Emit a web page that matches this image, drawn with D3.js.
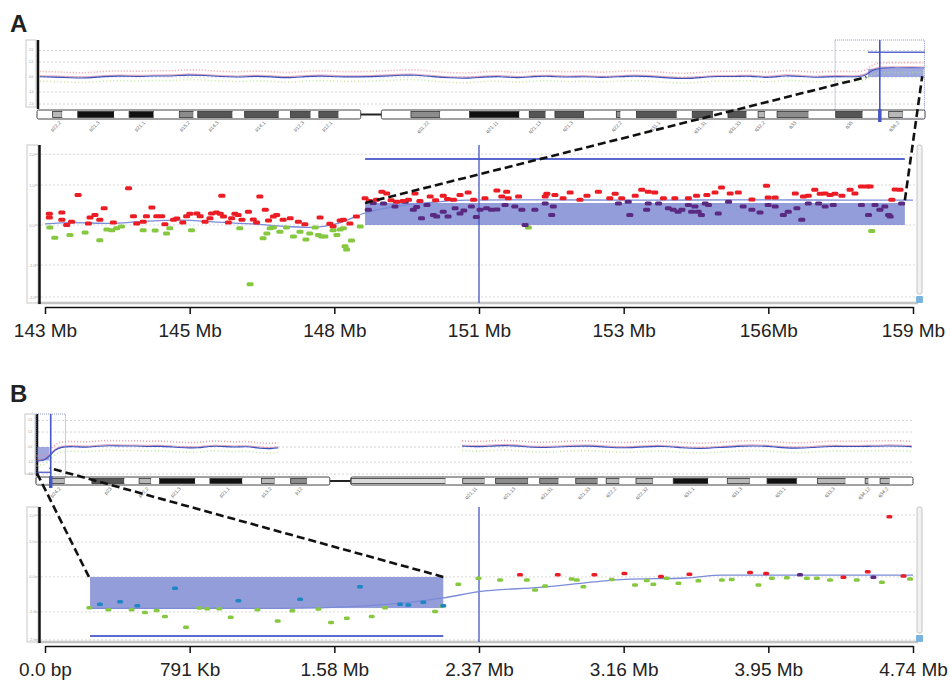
<!DOCTYPE html>
<html><head><meta charset="utf-8">
<script src="https://cdn.jsdelivr.net/npm/d3@7"></script>
<style>body{margin:0;background:#fff;} svg{display:block;font-family:"Liberation Sans",Arial,sans-serif;}</style>
</head><body><svg id="c" width="950" height="680"></svg>
<script>
// ---------------- DATA ----------------
// chromosome 7 cytobands (Mb)
const chr7Bands = [[0,2.8,"p22.3","gneg"],[2.8,4.5,"p22.2","gpos25"],[4.5,7.3,"p22.1","gneg"],[7.3,13.8,"p21.3","gpos100"],[13.8,16.5,"p21.2","gneg"],[16.5,20.9,"p21.1","gpos100"],[20.9,25.5,"p15.3","gneg"],[25.5,28.0,"p15.2","gpos50"],[28.0,28.8,"p15.1","gneg"],[28.8,35.0,"p14.3","gpos75"],[35.0,37.2,"p14.2","gneg"],[37.2,43.3,"p14.1","gpos75"],[43.3,45.4,"p13","gneg"],[45.4,49.0,"p12.3","gpos75"],[49.0,50.5,"p12.2","gneg"],[50.5,54.0,"p12.1","gpos75"],[54.0,58.0,"p11.2","gneg"],[58.0,59.9,"p11.1","acen"],[59.9,61.7,"q11.1","acen"],[61.7,67.0,"q11.21","gneg"],[67.0,72.2,"q11.22","gpos50"],[72.2,77.5,"q11.23","gneg"],[77.5,86.4,"q21.11","gpos100"],[86.4,88.2,"q21.12","gneg"],[88.2,91.1,"q21.13","gpos75"],[91.1,92.8,"q21.2","gneg"],[92.8,98.0,"q21.3","gpos75"],[98.0,103.8,"q22.1","gneg"],[103.8,104.5,"q22.2","gpos50"],[104.5,107.4,"q22.3","gneg"],[107.4,114.6,"q31.1","gpos75"],[114.6,117.4,"q31.2","gneg"],[117.4,121.1,"q31.31","gpos75"],[121.1,123.8,"q31.32","gneg"],[123.8,127.1,"q31.33","gpos75"],[127.1,129.2,"q32.1","gneg"],[129.2,130.4,"q32.2","gpos25"],[130.4,132.6,"q32.3","gneg"],[132.6,138.2,"q33","gpos50"],[138.2,143.1,"q34","gneg"],[143.1,147.9,"q35","gpos75"],[147.9,152.6,"q36.1","gneg"],[152.6,155.1,"q36.2","gpos25"],[155.1,159.1,"q36.3","gneg"]];
// chromosome 9 cytobands (Mb)
const chr9Bands = [[0,2.2,"p24.3","gneg"],[2.2,4.6,"p24.2","gpos25"],[4.6,9.0,"p24.1","gneg"],[9.0,14.2,"p23","gpos75"],[14.2,16.6,"p22.3","gneg"],[16.6,18.5,"p22.2","gpos25"],[18.5,19.9,"p22.1","gneg"],[19.9,25.6,"p21.3","gpos100"],[25.6,28.0,"p21.2","gneg"],[28.0,33.2,"p21.1","gpos100"],[33.2,36.3,"p13.3","gneg"],[36.3,38.4,"p13.2","gpos25"],[38.4,41.0,"p13.1","gneg"],[41.0,43.6,"p12","gpos50"],[43.6,47.3,"p11.2","gneg"],[47.3,49.0,"p11.1","acen"],[49.0,50.7,"q11","acen"],[50.7,65.9,"q12","gvar"],[65.9,68.7,"q13","gneg"],[68.7,72.2,"q21.11","gpos25"],[72.2,74.0,"q21.12","gneg"],[74.0,79.2,"q21.13","gpos50"],[79.2,81.1,"q21.2","gneg"],[81.1,84.1,"q21.31","gpos50"],[84.1,86.9,"q21.32","gneg"],[86.9,90.4,"q21.33","gpos50"],[90.4,91.8,"q22.1","gneg"],[91.8,93.9,"q22.2","gpos25"],[93.9,96.6,"q22.31","gneg"],[96.6,99.3,"q22.32","gpos25"],[99.3,102.6,"q22.33","gneg"],[102.6,108.2,"q31.1","gpos100"],[108.2,111.3,"q31.2","gneg"],[111.3,114.9,"q31.3","gpos25"],[114.9,117.7,"q32","gneg"],[117.7,122.5,"q33.1","gpos100"],[122.5,125.8,"q33.2","gneg"],[125.8,130.3,"q33.3","gpos25"],[130.3,133.5,"q34.11","gneg"],[133.5,134.0,"q34.12","gpos25"],[134.0,135.9,"q34.13","gneg"],[135.9,137.4,"q34.2","gpos25"],[137.4,141.2,"q34.3","gneg"]];

// whole-chromosome smoothed log2 ratio (overview traces)
const ovAPos = [0.5,3,6,9,12,15,18,21,24,27,30,33,36,39,42,45,48,51,54,57.5,62.5,65,68,71,74,77,80,83,86,89,92,95,98,101,104,107,110,113,116,119,122,125,128,131,134,137,140,143,146,148.5,149.5,151,154,157,159];
const ovAVal = [0.02,0.0,-0.05,-0.08,0.04,0.07,0.02,0.08,0.05,0.15,0.1,0.03,-0.02,0.06,0.02,-0.08,0.04,0.08,0.01,0.0,0.06,0.12,0.14,0.02,-0.06,-0.1,0.0,0.05,-0.08,0.04,0.06,-0.03,0.05,-0.05,0.02,0.08,0.03,-0.06,-0.12,-0.04,0.05,0.02,0.08,-0.08,0.12,0.03,-0.04,0.05,0.0,0.05,0.45,0.62,0.6,0.62,0.6];
const ovBPos = [0.1,0.5,1,1.5,2.2,3,4,6,8,10,12,14,16,18,20,22,24,26,28,30,32,34,36,38,39,68.6,71,74,77,80,83,86,89,92,95,98,101,104,107,110,113,116,119,122,125,128,131,134,137,140,141];
const ovBVal = [-0.95,-0.92,-0.9,-0.85,-0.6,-0.2,0.0,0.04,-0.04,0.06,0.1,0.05,0.08,0.02,0.06,0.0,-0.05,-0.08,0.06,0.04,-0.02,0.05,-0.1,-0.12,-0.06,0.06,0.0,0.09,0.1,-0.05,-0.02,0.04,0.08,-0.02,-0.08,0.02,0.06,-0.06,-0.12,-0.04,0.05,0.09,0.0,-0.1,-0.04,0.06,0.02,0.04,0.08,0.05,0.02];

// Panel A detail probes [Mb, log2 ratio]
const redA = [[143.08,0.28],[143.08,0.19],[143.31,0.31],[143.31,0.13],[143.40,0.0],[143.49,0.08],[143.61,0.75],[143.80,0.04],[143.83,0.19],[143.92,0.25],[144.01,0.13],[144.09,0.42],[144.26,0.06],[144.54,0.92],[144.63,0.22],[144.69,0.04],[144.81,0.08],[144.87,0.22],[144.97,0.44],[145.06,0.22],[145.15,0.22],[145.21,0.02],[145.37,0.13],[145.43,0.16],[145.54,0.06],[145.61,0.22],[145.67,0.28],[145.80,0.29],[145.86,0.22],[145.95,0.08],[146.04,0.17],[146.07,0.29],[146.16,0.31],[146.23,0.28],[146.26,0.73],[146.29,0.21],[146.38,0.06],[146.44,0.17],[146.50,0.28],[146.56,0.25],[146.63,0.13],[146.75,0.33],[146.84,0.14],[146.90,0.06],[146.96,0.71],[147.06,0.38],[147.12,0.11],[147.21,0.21],[147.27,0.25],[147.39,0.13],[147.52,0.17],[147.67,0.08],[147.79,0.02],[148.07,0.19],[148.25,0.03],[148.31,-0.03],[148.44,0.11],[148.50,0.13],[148.62,0.04],[148.74,0.21],
 [148.90,0.67],[148.98,0.60],[149.11,0.63],[149.21,0.83],[149.30,0.79],[149.38,0.62],[149.48,0.58],[149.60,0.60],[149.70,0.63],[149.82,0.79],[149.91,0.60],[150.10,0.71],[150.20,0.62],[150.34,0.73],[150.42,0.65],[150.53,0.63],[150.65,0.75],[150.80,0.81],[150.90,0.63],
 [151.11,0.67],[151.33,0.86],[151.42,0.71],[151.51,0.83],[151.54,0.67],[151.73,0.71],[152.22,0.71],[152.25,0.78],[152.40,0.75],[152.55,0.67],[152.68,0.81],[152.86,0.63],[152.99,0.73],[153.20,0.83],[153.41,0.67],[153.51,0.78],[153.63,0.67],[153.88,0.73],[154.00,0.88],[154.12,0.83],[154.24,0.81],[154.40,0.67],[154.61,0.67],[154.86,0.67],[155.01,0.73],[155.20,0.75],[155.35,0.81],[155.47,0.94],[155.63,0.79],[155.78,0.81],[156.03,0.64],[156.30,0.98],[156.33,0.69],[156.46,0.69],[156.83,0.79],[156.98,0.71],[157.07,0.73],[157.19,0.88],[157.29,0.78],[157.38,0.79],[157.47,0.75],[157.56,0.78],[157.69,0.73],[157.84,0.88],[157.93,0.79],[158.05,0.96],[158.15,0.96],[158.21,0.96],[158.61,0.63],[158.67,0.89],[158.76,0.88]];
const purpleA = [[148.96,0.38],[149.05,0.55],[149.24,0.54],[149.45,0.46],[149.64,0.58],[149.79,0.38],[149.85,0.45],[149.94,0.17],[150.04,0.50],[150.16,0.25],[150.22,0.21],[150.34,0.33],[150.43,0.21],[150.56,0.42],[150.65,0.29],[150.72,0.36],[150.86,0.46],[150.95,0.20],
 [151.02,0.38],[151.14,0.42],[151.23,0.38],[151.33,0.39],[151.48,0.50],[151.66,0.46],[151.79,0.38],[151.85,0.0],[152.03,0.38],[152.22,0.54],[152.34,0.25],[152.37,0.46],[153.57,0.54],[153.75,0.58],[153.78,0.25],[154.09,0.38],[154.12,0.54],[154.31,0.54],[154.49,0.42],[154.58,0.38],[154.67,0.33],[154.74,0.38],[154.86,0.50],[154.92,0.33],[154.98,0.46],[155.04,0.33],[155.10,0.25],[155.17,0.54],[155.23,0.50],[155.41,0.29],[155.60,0.58],[155.87,0.46],[156.03,0.38],[156.18,0.31],[156.33,0.50],[156.46,0.46],[156.61,0.25],[156.70,0.33],[156.86,0.42],[156.95,0.13],[157.07,0.54],[157.26,0.54],[157.38,0.46],[157.53,0.50],[158.05,0.50],[158.18,0.25],[158.30,0.50],[158.39,0.38],[158.48,0.46],[158.55,0.25],[158.58,0.21],[158.79,0.54]];
const greenA = [[143.09,-0.06],[143.18,-0.32],[143.46,-0.25],[143.74,-0.19],[144.01,-0.38],[144.14,-0.11],[144.23,-0.13],[144.32,-0.08],[144.41,-0.04],[144.81,-0.13],[145.03,-0.14],[145.24,-0.21],[145.30,-0.08],[145.70,-0.13],[146.59,-0.08],[146.78,-1.48],[147.02,-0.33],[147.09,-0.21],[147.15,-0.08],[147.21,-0.06],[147.33,-0.17],[147.45,-0.06],[147.58,-0.29],[147.70,-0.17],[147.81,-0.36],[147.88,-0.21],[147.98,-0.06],[148.04,-0.25],[148.10,-0.29],[148.16,-0.29],[148.31,-0.13],[148.38,-0.25],[148.44,-0.11],[148.50,-0.08],[148.53,-0.53],[148.56,-0.61],[148.65,-0.39],[148.81,-0.04],[151.91,-0.06],[158.24,-0.15]];
const smoothA = [[143,0.03],[143.5,0.06],[144.2,0.04],[144.8,0.09],[145.5,0.12],[146.2,0.07],[146.9,0.02],[147.5,-0.04],[147.9,-0.06],[148.4,0.04],[148.9,0.3],[149.4,0.45],[150,0.55],[150.8,0.62],[152,0.63],[154,0.62],[156,0.63],[158,0.62],[159,0.62]];

// Panel B detail probes [Mb, log2 ratio]
const greenB = [[0.242,-0.88],[0.346,-0.94],[0.473,-0.94],[0.546,-1.02],[0.610,-0.96],[0.655,-1.13],[0.770,-1.44],[0.843,-0.89],[0.886,-0.91],[0.952,-0.91],[1.014,-1.15],[1.160,-0.94],[1.271,-1.26],[1.351,-0.97],[1.493,-0.92],[1.562,-1.30],[1.648,-1.18],[1.784,-1.13],[1.857,-0.88],[2.130,-0.99],[2.167,-0.83],[2.257,-0.21],
 [2.367,-0.04],[2.485,-0.09],[2.631,-0.09],[2.676,-0.37],[2.731,-0.26],[2.876,-0.06],[2.904,-0.09],[2.940,-0.28],[3.095,-0.07],[3.222,-0.23],[3.286,-0.10],[3.322,-0.21],[3.395,-0.04],[3.459,-0.18],[3.568,-0.11],[3.696,-0.09],[3.750,-0.07],[3.896,-0.23],[3.969,-0.04],[4.051,-0.02],[4.160,-0.04],[4.215,-0.04],[4.287,-0.09],[4.433,-0.09],[4.570,-0.15],[4.724,-0.06]];
const blueB = [[0.300,-0.78],[0.410,-0.71],[0.504,-0.82],[0.710,-0.32],[1.056,-0.68],[1.393,-0.64],[1.720,-0.28],[1.939,-0.78],[1.984,-0.80],[2.066,-0.72],[2.175,-0.82]];
const redB = [[2.594,0.06],[2.800,0.06],[3.000,0.06],[3.164,0.10],[3.364,0.01],[3.519,0.08],[3.850,0.13],[3.938,0.10],[4.360,-0.01],[4.493,0.15],[4.688,0.03],[4.611,1.72]];
const purpleB = [[4.123,0.06],[4.524,-0.01]];
const smoothB = [[0.246,-0.9],[0.8,-0.9],[1.3,-0.9],[1.7,-0.84],[2.0,-0.72],[2.175,-0.6],[2.37,-0.42],[2.7,-0.3],[3.17,-0.07],[3.5,-0.03],[3.7,0.05],[4.74,0.05]];

// called segments [start Mb, end Mb, log2 ratio], marker line level, cursor
const segA = [148.9, 158.85, 0.55], segLineA = 1.65, cursorA = 151;
const segB = [0.246, 2.175, -0.89], segLineB = -1.69, cursorB = 2.37;

// axis ticks
const tickValsA = [143,145.667,148.333,151,153.667,156.333,159];
const tickLabelsA = ["143 Mb","145 Mb","148 Mb","151 Mb","153 Mb","156Mb","159 Mb"];
const tickValsB = [0,0.79,1.58,2.37,3.16,3.95,4.74];
const tickLabelsB = ["0.0 bp","791 Kb","1.58 Mb","2.37 Mb","3.16 Mb","3.95 Mb","4.74 Mb"];
const gridVals = [1.77,1,0,-1,-1.8];
const yAxisLabels = ["2.0","1.0","0.0","-1.0","-2.0"];

// ---------------- DRAW ----------------
const svg = d3.select("#c");
const stainFill = {gneg:"#ffffff",gpos25:"#b8b8b8",gpos50:"#8c8c8c",gpos75:"#555555",gpos100:"#111111",gvar:"#dadada",acen:"#888"};
const C = {red:"#ec1c24", purple:"#5a2a82", green:"#86c840", blue:"#1f86c6", seg:"#8d98d8", segLine:"#5b69d0", cursor:"#4656c6", smooth:"#7b8bd8"};

function drawPanel(p){
  const g = svg.append("g");
  g.append("text").attr("x",10).attr("y",p.labelY).attr("font-size",24).attr("font-weight","bold").attr("fill","#222").text(p.label);

  // ---- overview ----
  const chrLen = d3.max(p.bands, d=>d[1]);
  const ox = d3.scaleLinear().domain([0,chrLen]).range(p.ovX);
  const oy = d3.scaleLinear().domain(p.ovYDom).range([p.ovFrame[1],p.ovFrame[0]]);
  // left axis box
  g.append("rect").attr("x",p.ovX[0]-11).attr("y",p.ovFrame[0]).attr("width",10).attr("height",p.ovFrame[1]-p.ovFrame[0]).attr("fill","#fff").attr("stroke","#c8c8c8");
  gridVals.forEach((v,i)=>{
    g.append("line").attr("x1",p.ovX[0]+2).attr("x2",p.ovX[1]).attr("y1",oy(v)).attr("y2",oy(v)).attr("stroke","#d4d4d4").attr("stroke-dasharray","2,2");
    g.append("text").attr("x",p.ovX[0]-6).attr("y",oy(v)+1).attr("font-size",3).attr("fill","#999").attr("text-anchor","middle").text(yAxisLabels[i]);
  });
  g.append("line").attr("x1",p.ovX[0]+1).attr("x2",p.ovX[0]+1).attr("y1",p.ovFrame[0]).attr("y2",p.ovFrame[1]+2).attr("stroke","#111").attr("stroke-width",2.5);

  // trace (break at gaps)
  const pts = p.ovPos.map((d,i)=>({x:d,v:p.ovVal[i],br:i>0 && d-p.ovPos[i-1]>6}));
  const segs=[];let cur=[];
  pts.forEach(d=>{ if(d.br){segs.push(cur);cur=[];} cur.push(d); }); segs.push(cur);
  // segment box in overview
  g.append("rect").attr("x",ox(p.seg[0])).attr("width",ox(p.seg[1])-ox(p.seg[0])).attr("y",oy(Math.max(0,p.seg[2]))).attr("height",Math.abs(oy(p.seg[2])-oy(0))).attr("fill",C.seg).attr("opacity",0.85);
  const ln = d3.line().x(d=>ox(d.x)).y(d=>oy(d.v)).curve(d3.curveBasis);
  segs.forEach(s=>{
    g.append("path").attr("d",d3.line().x(d=>ox(d.x)).y(d=>oy(d.v+0.35)).curve(d3.curveBasis)(s)).attr("fill","none").attr("stroke","#f28a90").attr("stroke-width",1.6).attr("stroke-dasharray","1,2").attr("opacity",0.8);
    g.append("path").attr("d",d3.line().x(d=>ox(d.x)).y(d=>oy(d.v-0.3)).curve(d3.curveBasis)(s)).attr("fill","none").attr("stroke","#b8e08a").attr("stroke-width",1.6).attr("stroke-dasharray","1,2.5").attr("opacity",0.8);
    g.append("path").attr("d",ln(s)).attr("fill","none").attr("stroke","#c04070").attr("stroke-width",1.2).attr("opacity",0.45).attr("transform","translate(0,-1)");
    g.append("path").attr("d",ln(s)).attr("fill","none").attr("stroke","#3a52c0").attr("stroke-width",1.1);
  });
  g.append("line").attr("x1",ox(p.seg[0])).attr("x2",ox(Math.min(p.seg[1]+0.3,chrLen))).attr("y1",oy(p.segLine)).attr("y2",oy(p.segLine)).attr("stroke",C.segLine).attr("stroke-width",1.5);
  // selection rectangle
  g.append("rect").attr("x",ox(p.detDom[0])).attr("width",ox(p.detDom[1])-ox(p.detDom[0])).attr("y",p.ovFrame[0]).attr("height",p.ideoY[1]-p.ovFrame[0]-2).attr("fill","none").attr("stroke","#8a94d0").attr("stroke-dasharray","1,1");

  // ideogram
  const bandsNoCen = p.bands.filter(b=>b[3]!=="acen");
  const cen = p.bands.filter(b=>b[3]==="acen");
  const cen0 = d3.min(cen,d=>d[0]), cen1 = d3.max(cen,d=>d[1]);
  const ih = p.ideoY[1]-p.ideoY[0];
  g.append("line").attr("x1",ox(cen0)).attr("x2",ox(cen1)).attr("y1",p.ideoY[0]+ih/2).attr("y2",p.ideoY[0]+ih/2).attr("stroke","#222").attr("stroke-width",2);
  g.selectAll(null).data(bandsNoCen).join("rect")
    .attr("x",d=>ox(d[0])).attr("width",d=>ox(d[1])-ox(d[0])).attr("y",p.ideoY[0]+1.5).attr("height",ih-3)
    .attr("fill",d=>stainFill[d[3]]).attr("stroke",d=>d[3]==="gneg"?"none":"#333").attr("stroke-width",0.8);
  [[0,cen0],[cen1,chrLen]].forEach(a=>{
    g.append("rect").attr("x",ox(a[0])).attr("width",ox(a[1])-ox(a[0])).attr("y",p.ideoY[0]).attr("height",ih).attr("rx",1.5).attr("fill","none").attr("stroke","#444").attr("stroke-width",1);
  });
  g.selectAll(null).data(p.bands.filter(b=>b[3].startsWith("gpos"))).join("text")
    .attr("transform",d=>`translate(${ox((d[0]+d[1])/2)+4},${p.ideoY[1]+4}) rotate(-45)`)
    .attr("text-anchor","end").attr("font-size",5).attr("fill","#666").text(d=>d[2]);
  // cursor in overview
  g.append("line").attr("x1",ox(p.cursor)).attr("x2",ox(p.cursor)).attr("y1",p.ovFrame[0]).attr("y2",p.ideoY[1]+2).attr("stroke",C.cursor).attr("stroke-width",1.6);
  g.append("line").attr("x1",ox(p.cursor)).attr("x2",ox(p.cursor)).attr("y1",p.ideoY[0]-1).attr("y2",p.ideoY[1]+3).attr("stroke",C.cursor).attr("stroke-width",3.5);

  // ---- detail ----
  const x = d3.scaleLinear().domain(p.detDom).range([45,913]);
  const y = d3.scaleLinear().domain(p.detYDom).range(p.detYRange);
  const top = p.detYRange[1], bot = p.detYRange[0];
  g.append("rect").attr("x",27).attr("y",top).attr("width",11).attr("height",bot-top).attr("fill","#fff").attr("stroke","#c8c8c8");
  gridVals.forEach((v,i)=>{
    g.append("line").attr("x1",41).attr("x2",915).attr("y1",y(v)).attr("y2",y(v)).attr("stroke","#d8d8d8").attr("stroke-dasharray","2,2");
    g.append("line").attr("x1",35).attr("x2",38).attr("y1",y(v)).attr("y2",y(v)).attr("stroke","#bbb");
    g.append("text").attr("x",32).attr("y",y(v)+1.5).attr("font-size",4).attr("fill","#aaa").attr("text-anchor","middle").text(yAxisLabels[i]);
  });
  g.append("line").attr("x1",37).attr("x2",918).attr("y1",bot).attr("y2",bot).attr("stroke","#c4c4c4").attr("stroke-width",2.5);
  g.append("line").attr("x1",39.5).attr("x2",39.5).attr("y1",top).attr("y2",bot+1).attr("stroke","#111").attr("stroke-width",2.5);
  // scrollbar
  g.append("rect").attr("x",917).attr("y",top).attr("width",5).attr("height",bot-top-9).attr("rx",2).attr("fill","#f2f2f2").attr("stroke","#c4c4c4");
  g.append("rect").attr("x",916).attr("y",bot-7).attr("width",7).attr("height",7).attr("rx",1).attr("fill","#7ab4de");

  // segment box
  g.append("rect").attr("x",x(p.seg[0])).attr("width",x(p.seg[1])-x(p.seg[0])).attr("y",y(Math.max(0,p.seg[2]))).attr("height",Math.abs(y(p.seg[2])-y(0))).attr("fill",C.seg).attr("opacity",0.95);
  g.append("line").attr("x1",x(p.seg[0])).attr("x2",x(p.seg[1])).attr("y1",y(p.segLine)).attr("y2",y(p.segLine)).attr("stroke",C.segLine).attr("stroke-width",2);
  // cursor
  g.append("line").attr("x1",x(p.cursor)).attr("x2",x(p.cursor)).attr("y1",top).attr("y2",bot).attr("stroke",C.cursor).attr("stroke-width",1.3);

  // smoothed line
  g.append("path").datum(p.smooth).attr("d",d3.line().x(d=>x(d[0])).y(d=>y(d[1])).curve(d3.curveMonotoneX)).attr("fill","none").attr("stroke",C.smooth).attr("stroke-width",1.3);

  // probes
  p.points.forEach(s=>{
    g.selectAll(null).data(s.data).join("rect")
      .attr("x",d=>x(d[0])-s.w/2).attr("y",d=>y(d[1])-s.h/2).attr("width",s.w).attr("height",s.h).attr("rx",1.5).attr("fill",s.color);
  });

  // axis
  const ax = g.append("g").attr("transform",`translate(0,${p.axisY})`)
    .call(d3.axisBottom(x).tickValues(p.tickVals).tickFormat((d,i)=>p.tickLabels[i]).tickSize(7).tickSizeOuter(0).tickPadding(10));
  ax.select(".domain").attr("stroke","#111").attr("stroke-width",1.5);
  ax.selectAll(".tick line").attr("stroke","#111").attr("stroke-width",1.5);
  ax.selectAll(".tick text").attr("font-size",19).attr("fill","#222").attr("font-family","Liberation Sans, Arial, sans-serif");

  // zoom connectors
  p.dash.forEach(dl=>{
    const a = [x(dl[0][0]), y(dl[0][1])], b = [ox(dl[1][0]), oy(dl[1][1])];
    g.append("line").attr("x1",a[0]).attr("y1",a[1]).attr("x2",b[0]).attr("y2",b[1]).attr("stroke","#111").attr("stroke-width",2.6).attr("stroke-dasharray","8,4");
  });
}

drawPanel({
  label:"A", labelY:32, bands:chr7Bands, ovX:[37,925], ovFrame:[40,107], ovYDom:[-2,2.47], ideoY:[110,119],
  ovPos:ovAPos, ovVal:ovAVal, seg:segA, segLine:segLineA, cursor:cursorA,
  detDom:[143,159], detYDom:[-1.95,2.0], detYRange:[303,145], axisY:307,
  tickVals:tickValsA, tickLabels:tickLabelsA, smooth:smoothA,
  points:[{data:greenA,color:C.green,w:7,h:4},{data:purpleA,color:C.purple,w:7,h:4},{data:redA,color:C.red,w:7,h:4}],
  dash:[[[148.9,0.55],[148.6,0.0]],[[158.85,0.62],[158.6,0.05]]]
});
drawPanel({
  label:"B", labelY:402, bands:chr9Bands, ovX:[36,913], ovFrame:[414,474], ovYDom:[-1.8,2.2], ideoY:[477,485],
  ovPos:ovBPos, ovVal:ovBVal, seg:segB, segLine:segLineB, cursor:cursorB,
  detDom:[0,4.74], detYDom:[-1.86,2.0], detYRange:[642,507], axisY:646,
  tickVals:tickValsB, tickLabels:tickLabelsB, smooth:smoothB,
  points:[{data:greenB,color:C.green,w:6,h:3.5},{data:blueB,color:C.blue,w:6,h:3.5},{data:purpleB,color:C.purple,w:6,h:3.5},{data:redB,color:C.red,w:6,h:3.5}],
  dash:[[[0.24,0.0],[0.1,-1.7]],[[2.175,0.0],[2.2,-1.4]]]
});
</script></body></html>
